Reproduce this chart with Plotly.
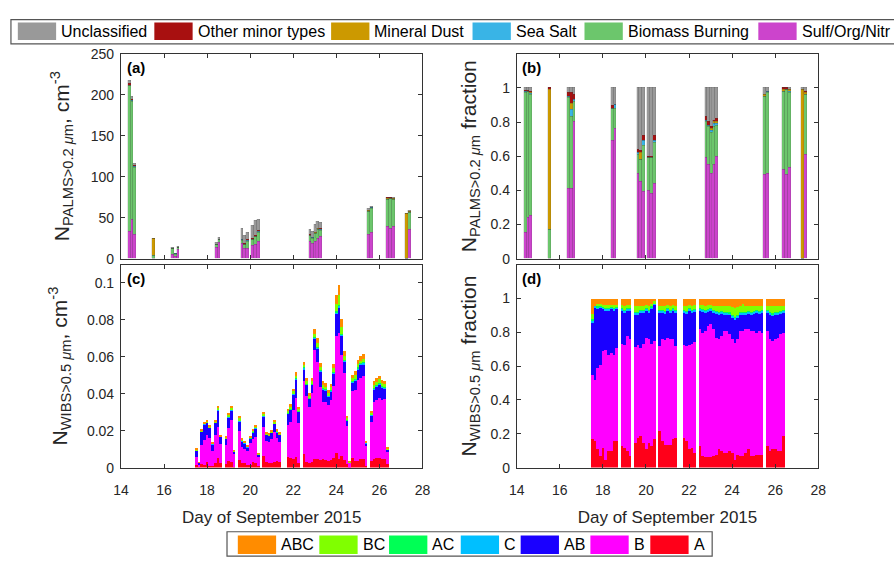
import plotly.graph_objects as go

# ---------------- PALMS data (panels a, b) ----------------
palms_day = [14.38, 14.51, 14.64, 15.50, 16.39, 16.52, 16.65, 18.42, 18.55,
             19.62, 19.75, 19.88, 20.12, 20.25, 20.38,
             22.78, 22.90, 23.02, 23.14, 23.27, 25.51, 25.64,
             26.38, 26.52, 26.66, 27.24, 27.38]
palms_total = [217, 197, 116, 25, 13, 6.5, 14.5, 19.5, 26,
               36.5, 28.5, 32, 40, 46, 47,
               35, 32.5, 41, 45.5, 44.5, 61, 63.5,
               74, 74, 74, 55, 58.5]
frac_sulf = [.15, .24, .25, 0, .41, .41, .80, .69, .76, .50, .45, .39, .40, .38, .44,
             .59, .55, .50, .55, .60, .49, .50, .52, .49, .53, 0, .61]
frac_bb = [.82, .735, .71, .17, .53, .42, .12, .19, .12, .11, .13, .27, .19, .21, .24,
           .21, .22, .24, .22, .18, .46, .47, .46, .50, .44, 0, .35]
frac_ss = [.005, .005, .005, 0, .01, .04, .01, 0, .02, .01, 0, .03, 0, 0, .01,
           .01, .01, .01, .02, .01, 0, .01, 0, 0, .01, 0, 0]
frac_dust = [0, 0, .005, .82, 0, .04, 0, 0, 0, 0, .04, 0, 0, 0, 0,
             0, 0, .01, .01, .01, .01, 0, .01, 0, .01, .99, .01]
frac_other = [.01, .005, .01, .01, .02, .06, .03, .015, 0, .02, .01, .03, .01, .01, .03,
              .02, .02, .01, .01, .02, 0, 0, .01, .01, 0, 0, .01]
frac_unc = [.015, .015, .02, 0, .03, .03, .04, .105, .10, .36, .37, .28, .40, .40, .28,
            .17, .20, .23, .19, .18, .04, .02, 0, 0, .01, .01, .02]

palms_names = ["Sulf/Org/Nitr", "Biomass Burning", "Sea Salt", "Mineral Dust",
               "Other minor types", "Unclassified"]
palms_colors = ["#CC44CC", "#6CC66C", "#39B4E6", "#CC9900", "#A81010", "#999999"]
palms_fracs = [frac_sulf, frac_bb, frac_ss, frac_dust, frac_other, frac_unc]

# ---------------- WIBS data (panels c, d) ----------------
wibs_day = [17.5, 17.625, 17.75, 17.875, 18.0, 18.125, 18.25, 18.375, 18.5, 18.625,
            18.875, 19.0, 19.125, 19.25,
            19.5, 19.625, 19.75, 19.875, 20.0, 20.125, 20.25, 20.375,
            20.625, 20.75, 20.875, 21.0, 21.125, 21.25, 21.375,
            21.75, 21.875, 22.0, 22.125, 22.25,
            22.5, 22.625, 22.75, 22.875, 23.0, 23.125, 23.25, 23.375, 23.5, 23.625,
            23.75, 23.875, 24.0, 24.125, 24.25, 24.375, 24.5, 24.625, 24.75, 24.875,
            25.0, 25.125, 25.25, 25.375,
            25.625, 25.75, 25.875, 26.0, 26.125, 26.25, 26.375]
wibs_total = [.011, .003, .021, .025, .026, .0235, .014, .026, .0336, .018,
              .017, .030, .0336, .0097,
              .028, .016, .0147, .0124, .0173, .021, .023, .0078,
              .0306, .0195, .019, .0205, .026, .021, .0195,
              .032, .0345, .043, .052, .033,
              .0577, .0487, .0407, .0487, .0754, .0704, .057, .047, .046, .0425,
              .0457, .0566, .0938, .099, .0805, .0634, .0283, .0035, .0506, .0524,
              .0586, .0607, .0616, .0147,
              .031, .047, .049, .050, .0478, .0474, .011]
frac_A = [.17, .16, .11, .07, .12, .05, .10, .10, .16, .16,
          .13, .12, .10, .07,
          .15, .18, .19, .15, .11, .15, .13, .17,
          .22, .16, .135, .135, .135, .17, .18,
          .18, .16, .11, .12, .09,
          .13, .07, .065, .065, .067, .07, .08, .11, .10, .09, .09, .10, .09, .05,
          .08, .07, .07, .09, .11, .07, .07, .08, .08, .08,
          .13, .10, .11, .11, .10, .10, .19]
frac_B = [.38, .36, .48, .54, .57, .65, .57, .58, .51, .55,
          .605, .605, .68, .69,
          .565, .55, .52, .585, .66, .61, .605, .58,
          .50, .605, .62, .635, .625, .595, .54,
          .545, .56, .62, .615, .655,
          .69, .73, .745, .775, .783, .75, .69, .65, .68, .72, .72, .69, .67, .69,
          .68, .74, .74, .73, .71, .74, .74, .72, .73, .72,
          .68, .66, .64, .65, .67, .69, .61]
frac_AB = [.31, .43, .35, .34, .25, .23, .26, .26, .26, .23,
           .195, .195, .15, .17,
           .195, .18, .21, .185, .16, .16, .205, .215,
           .20, .155, .16, .16, .16, .165, .20,
           .195, .195, .20, .185, .18,
           .11, .125, .11, .085, .08, .10, .145, .15, .135, .10, .10, .115, .13, .14,
           .13, .10, .10, .09, .095, .10, .105, .12, .105, .12,
           .11, .15, .15, .15, .14, .125, .12]
frac_C = [.01, .01, .01, .005, .01, .01, .01, .01, .01, .01,
          .01, .01, .01, .01,
          .01, .01, .01, .01, .01, .01, .01, .005,
          .01, .01, .01, .01, .01, .01, .01,
          .01, .01, .01, .01, .01,
          .01, .01, .01, .01, .01, .01, .01, .01, .01, .01, .01, .01, .01, .01,
          .01, .01, .01, .01, .01, .01, .01, .01, .01, .01,
          .01, .01, .01, .01, .01, .01, .01]
frac_AC = [.01, 0, .005, .005, .005, .005, .005, .005, .005, .005,
           .005, .005, .005, .005,
           .005, .005, .005, .005, .005, .005, .005, .005,
           .005, .005, .005, .005, .005, .005, .005,
           .005, .005, .005, .005, .005,
           .005, .005, .005, .005, .005, .005, .005, .005, .005, .005, .005, .005, .005, .005,
           .005, .005, .005, .005, .005, .005, .005, .005, .005, .005,
           .005, .005, .005, .005, .005, .005, .005]
frac_BC = [.03, 0, .015, .01, .01, .02, .02, .01, .02, .01,
           .02, .025, .02, .02,
           .035, .03, .025, .025, .02, .025, .015, .01,
           .025, .025, .03, .02, .025, .02, .025,
           .025, .03, .02, .025, .025,
           .02, .025, .025, .025, .02, .025, .03, .035, .03, .035, .035, .035, .045, .05,
           .045, .035, .045, .035, .03, .035, .03, .025, .03, .025,
           .025, .035, .04, .035, .035, .03, .025]
frac_ABC = [.09, .04, .03, .03, .035, .035, .035, .035, .035, .035,
            .035, .04, .035, .035,
            .04, .045, .04, .04, .035, .04, .03, .015,
            .04, .04, .04, .035, .04, .035, .04,
            .04, .04, .035, .04, .035,
            .035, .035, .04, .035, .035, .04, .04, .04, .04, .04, .04, .045, .05, .055,
            .05, .04, .03, .04, .04, .04, .04, .04, .04, .04,
            .04, .04, .045, .04, .04, .04, .04]

wibs_names = ["A", "B", "AB", "C", "AC", "BC", "ABC"]
wibs_colors = ["#FF0019", "#FF00FF", "#1A00FF", "#00BFFF", "#00FF55", "#80FF00", "#FF8C00"]
wibs_fracs = [frac_A, frac_B, frac_AB, frac_C, frac_AC, frac_BC, frac_ABC]

day_ticks = [14, 16, 18, 20, 22, 24, 26, 28]

W, H = 894, 565
FONT = "Liberation Sans, Arial, sans-serif"
AX = "#333333"

fig = go.Figure()

# panel a & b
for name, col, fr in zip(palms_names, palms_colors, palms_fracs):
    fig.add_trace(go.Bar(x=palms_day, y=[t * f for t, f in zip(palms_total, fr)],
                         width=0.13, marker=dict(color=col, line=dict(width=0.4, color="rgba(60,60,60,0.35)")),
                         name=name, showlegend=False, xaxis="x", yaxis="y"))
    fig.add_trace(go.Bar(x=palms_day, y=fr, width=0.13,
                         marker=dict(color=col, line=dict(width=0.4, color="rgba(60,60,60,0.35)")),
                         name=name, showlegend=False, xaxis="x2", yaxis="y2"))
# panel c & d
for name, col, fr in zip(wibs_names, wibs_colors, wibs_fracs):
    fig.add_trace(go.Bar(x=wibs_day, y=[t * f for t, f in zip(wibs_total, fr)],
                         width=0.125, marker=dict(color=col, line=dict(width=0)),
                         name=name, showlegend=False, xaxis="x3", yaxis="y3"))
    fig.add_trace(go.Bar(x=wibs_day, y=fr, width=0.125,
                         marker=dict(color=col, line=dict(width=0)),
                         name=name, showlegend=False, xaxis="x4", yaxis="y4"))


def px_x(p):
    return p / W


def px_y(p):
    return 1 - p / H


common = dict(showline=True, linecolor=AX, linewidth=1, mirror="ticks", ticks="inside",
              ticklen=4, tickcolor=AX, showgrid=False, zeroline=False,
              tickfont=dict(size=14, color="#262626", family=FONT))

xa_dom = [px_x(115), px_x(422)]
xb_dom = [px_x(518), px_x(825)]
ytop_dom = [px_y(258), px_y(47)]
ybot_dom = [px_y(473), px_y(264)]

title_font = dict(size=21, color="#262626", family=FONT)
xtitle = dict(text="Day of September 2015", font=dict(size=17, color="#262626", family=FONT), standoff=13)

fig.update_layout(
    width=W, height=H, autosize=False,
    margin=dict(l=0, r=0, t=0, b=0),
    paper_bgcolor="white", plot_bgcolor="white",
    barmode="stack", bargap=0,
    font=dict(family=FONT, color="#262626"),
    xaxis=dict(domain=xa_dom, anchor="y", range=[14, 28], tickvals=day_ticks, showticklabels=False, **common),
    yaxis=dict(domain=ytop_dom, anchor="x", range=[0, 250], tickvals=[0, 50, 100, 150, 200, 250],
               ticklabelstandoff=3,
               title=dict(text="N<sub>PALMS&gt;0.2 <i>μ</i>m</sub>, cm<sup>-3</sup>", font=title_font, standoff=15),
               **common),
    xaxis2=dict(domain=xb_dom, anchor="y2", range=[14, 28], tickvals=day_ticks, showticklabels=False, **common),
    yaxis2=dict(domain=ytop_dom, anchor="x2", range=[0, 1.2], tickvals=[0, 0.2, 0.4, 0.6, 0.8, 1],
                ticklabelstandoff=3,
                title=dict(text="N<sub>PALMS&gt;0.2 <i>μ</i>m</sub> fraction", font=title_font, standoff=8),
                **common),
    xaxis3=dict(domain=xa_dom, anchor="y3", range=[14, 28], tickvals=day_ticks, title=xtitle,
                ticklabelstandoff=10, **common),
    yaxis3=dict(domain=ybot_dom, anchor="x3", range=[0, 0.11], tickvals=[0, 0.02, 0.04, 0.06, 0.08, 0.1],
                ticklabelstandoff=3,
                title=dict(text="N<sub>WIBS&gt;0.5 <i>μ</i>m</sub>, cm<sup>-3</sup>", font=title_font, standoff=13),
                **common),
    xaxis4=dict(domain=xb_dom, anchor="y4", range=[14, 28], tickvals=day_ticks, title=xtitle,
                ticklabelstandoff=10, **common),
    yaxis4=dict(domain=ybot_dom, anchor="x4", range=[0, 1.2], tickvals=[0, 0.2, 0.4, 0.6, 0.8, 1],
                ticklabelstandoff=3,
                title=dict(text="N<sub>WIBS&gt;0.5 <i>μ</i>m</sub> fraction", font=title_font, standoff=8),
                **common),
)

# panel labels
for lab, xr, yr in [("(a)", "x", "y"), ("(b)", "x2", "y2"), ("(c)", "x3", "y3"), ("(d)", "x4", "y4")]:
    fig.add_annotation(text="<b>%s</b>" % lab, xref=xr + " domain", yref=yr + " domain",
                       x=0.012, y=0.985, xanchor="left", yanchor="top", showarrow=False,
                       font=dict(size=15, color="#000000", family=FONT))

shapes = []
annots = []

# top legend (order as in reference: top of stack first)
top_order = list(range(len(palms_names)))[::-1]
top_sw_x = [10, 149, 329, 473, 587, 764]
shapes.append(dict(type="rect", xref="paper", yref="paper", x0=px_x(3), x1=px_x(905),
                   y0=px_y(37), y1=px_y(12), line=dict(color="#555555", width=1.2), fillcolor="white",
                   layer="below"))
for sx, i in zip(top_sw_x, top_order):
    shapes.append(dict(type="rect", xref="paper", yref="paper", x0=px_x(sx), x1=px_x(sx + 39),
                       y0=px_y(33), y1=px_y(15), line=dict(width=0), fillcolor=palms_colors[i]))
    annots.append(dict(text=palms_names[i], xref="paper", yref="paper", x=px_x(sx + 42), y=px_y(24.5),
                       xanchor="left", yanchor="middle", showarrow=False,
                       font=dict(size=16, color="#000000", family=FONT)))

# bottom legend
bot_order = list(range(len(wibs_names)))[::-1]
bot_sw_x = [234, 317, 388, 461, 522, 593, 654]
shapes.append(dict(type="rect", xref="paper", yref="paper", x0=px_x(223), x1=px_x(717),
                   y0=px_y(564), y1=px_y(539), line=dict(color="#555555", width=1.2), fillcolor="white",
                   layer="below"))
for sx, i in zip(bot_sw_x, bot_order):
    shapes.append(dict(type="rect", xref="paper", yref="paper", x0=px_x(sx), x1=px_x(sx + 39),
                       y0=px_y(562), y1=px_y(543), line=dict(width=0), fillcolor=wibs_colors[i]))
    annots.append(dict(text=wibs_names[i], xref="paper", yref="paper", x=px_x(sx + 42), y=px_y(552.5),
                       xanchor="left", yanchor="middle", showarrow=False,
                       font=dict(size=16, color="#000000", family=FONT)))

fig.update_layout(shapes=shapes)
for a in annots:
    fig.add_annotation(**a)

fig.write_html("out.html")
